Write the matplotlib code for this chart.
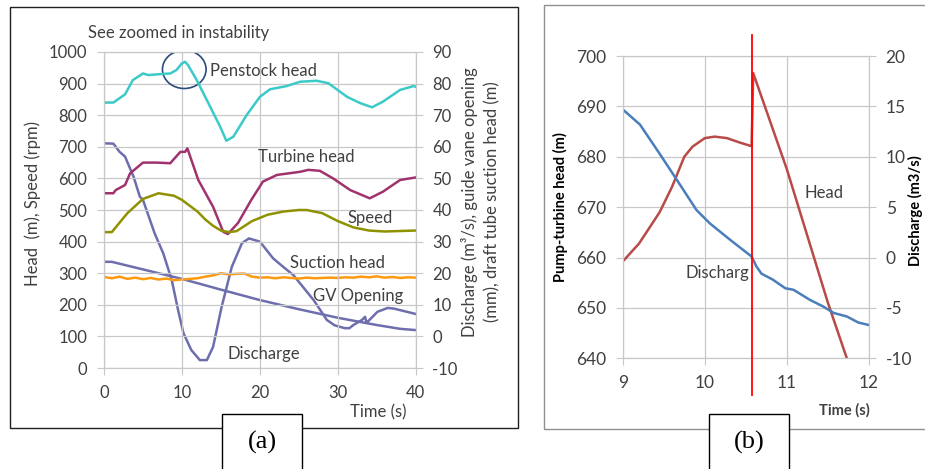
import matplotlib
matplotlib.use('Agg')
import matplotlib.pyplot as plt
from matplotlib.patches import Ellipse, Rectangle

plt.rcParams['font.family'] = ['Lato', 'DejaVu Sans']
plt.rcParams['axes.unicode_minus'] = False

# ---- panel (a): load rejection transient, 0-40 s ----
# left axis: head (m) and speed (rpm)
pen_t = [0, 1.2, 2.7, 3.7, 5.0, 5.7, 7.2, 8.5, 9.3, 10.0, 10.4, 10.8, 11.9, 13.4, 14.9, 15.7,
         16.6, 18.3, 20.0, 21.3, 23.4, 25.2, 27.3, 28.8, 31.2, 32.9, 34.4, 35.8, 38.0, 39.7, 40]
pen_head = [840, 840, 866, 911, 932, 927, 930, 932, 943, 964, 969, 958, 911, 838, 764, 719,
            732, 800, 858, 882, 892, 906, 909, 901, 858, 838, 825, 843, 880, 892, 890]

tur_t = [0, 1.2, 1.5, 2.7, 3.35, 5.0, 6.8, 8.5, 9.8, 10.4, 10.7, 12.1, 14.0, 15.3, 15.9, 17.2,
         18.9, 20.4, 22.2, 25.2, 26.2, 27.7, 29.4, 31.6, 34.1, 35.8, 38.0, 40]
tur_head = [553, 553, 563, 579, 616, 650, 650, 648, 684, 684, 695, 595, 510, 431, 424, 459,
            532, 590, 611, 621, 627, 624, 600, 563, 537, 558, 595, 603]

spd_t = [0, 1, 3, 5, 7, 9, 10, 12, 13, 14, 15, 16, 17, 19, 21, 23, 25, 26, 28, 30, 32, 34, 36, 40]
speed = [430, 430, 490, 535, 553, 545, 532, 495, 470, 450, 435, 430, 433, 465, 485, 495, 500,
         500, 490, 465, 445, 435, 432, 435]

# right axis: discharge (m3/s), GV opening (mm), suction head (m)
dis_t = [0, 1.2, 2.0, 2.7, 3.8, 4.6, 5.0, 6.5, 7.6, 8.7, 9.5, 10.2, 11.2, 12.3, 13.2, 14.0,
         15.1, 16.4, 17.7, 18.6, 20.0, 21.7, 23.0, 24.3, 26.9, 27.9, 28.6, 29.6, 30.9, 31.5,
         32.0, 33.1, 33.5, 33.7, 35.1, 36.4, 37.2, 40.0]
discharge = [61.1, 61.0, 58.4, 56.9, 50.5, 44.2, 43.2, 32.6, 26.3, 17.8, 8.4, 1.0, -4.3, -7.5,
             -7.5, -3.3, 9.4, 22.0, 29.5, 31.0, 30.0, 24.7, 22.0, 19.4, 11.5, 7.8, 5.2, 3.5,
             2.6, 2.6, 3.6, 5.2, 6.2, 4.3, 7.8, 9.0, 8.8, 7.1]

gv_t = [0, 1, 5, 10, 15, 20, 25, 30, 35, 38, 40]
gv_open = [23.6, 23.6, 21.2, 18.2, 14.8, 11.5, 8.6, 5.9, 3.6, 2.4, 2.0]

suc_t = list(range(41))
suction = [18.8, 18.4, 18.9, 18.2, 18.6, 18.1, 18.5, 18.0, 18.3, 17.8, 18.0, 18.2, 18.4, 18.9,
           19.3, 20.0, 19.6, 19.8, 19.9, 18.9, 18.6, 18.7, 18.4, 18.7, 18.5, 18.3, 18.6, 18.4,
           18.5, 18.6, 18.5, 18.7, 18.6, 18.9, 18.7, 19.0, 18.6, 18.8, 18.5, 18.7, 18.6]

# ---- panel (b): zoom on the instability, 9-12 s ----
b_head_t = [9.0, 9.2, 9.45, 9.6, 9.75, 9.85, 10.0, 10.12, 10.27, 10.43, 10.57, 10.59, 11.0,
            11.5, 11.73]
b_head = [659.2, 662.8, 669.0, 674.0, 680.0, 682.0, 683.7, 684.0, 683.7, 682.8, 682.1, 696.6,
          677.5, 651.0, 640.0]
b_dis_t = [9.0, 9.21, 9.45, 9.66, 9.9, 10.06, 10.31, 10.57, 10.63, 10.69, 10.83, 10.98, 11.08,
           11.28, 11.44, 11.57, 11.73, 11.87, 12.0]
b_dis = [14.7, 13.2, 10.3, 7.7, 4.7, 3.4, 1.75, 0.1, -0.9, -1.6, -2.2, -3.05, -3.2, -4.2, -4.85,
         -5.5, -5.85, -6.45, -6.7]
t_event = 10.58

W, H = 925, 469
txt = '#404040'
grid_c = '#C8C8C8'


def fx(px):
    return px / W


def fy(py):
    return 1 - py / H


fig = plt.figure(figsize=(9.25, 4.69), dpi=100)


def style(ax, size):
    for s in ax.spines.values():
        s.set_color(grid_c)
    ax.tick_params(colors=grid_c, labelcolor=txt, labelsize=size, length=5, pad=7)


# panel (a)
ax = fig.add_axes([fx(104), fy(368), fx(311.7), 316 / H])
ax2 = ax.twinx()
ax.set_zorder(ax2.get_zorder() + 1)
ax.patch.set_visible(False)

ax.plot(pen_t, pen_head, color='#3CCAC8', lw=1.8)
ax.plot(tur_t, tur_head, color='#A0336E', lw=1.8)
ax.plot(spd_t, speed, color='#8F9200', lw=1.8)
ax2.plot(dis_t, discharge, color='#6E6EAE', lw=1.8)
ax2.plot(gv_t, gv_open, color='#6E6EAE', lw=1.8)
ax2.plot(suc_t, suction, color='#FF9A10', lw=1.8)

ax.set_xlim(0, 40)
ax.set_ylim(0, 1000)
ax2.set_ylim(-10, 90)
ax.set_xticks(range(0, 41, 10))
ax.set_yticks(range(0, 1001, 100))
ax2.set_yticks(range(-10, 91, 10))
ax.grid(True, color=grid_c, lw=0.9)
ax.set_axisbelow(True)
style(ax, 12)
style(ax2, 12)

ax.add_patch(Ellipse((10.3, 945), 5.6, 121, fill=False, edgecolor='#2B4A7A', lw=1.2))
ax.text(-2.05, 1060, 'See zoomed in instability', color=txt, fontsize=12, va='center', clip_on=False)
ax.text(13.6, 940, 'Penstock head', color=txt, fontsize=12, va='center')
ax.text(19.8, 668, 'Turbine head', color=txt, fontsize=12, va='center')
ax.text(31.3, 474, 'Speed', color=txt, fontsize=12, va='center')
ax.text(23.9, 332, 'Suction head', color=txt, fontsize=12, va='center')
ax.text(26.8, 228, 'GV Opening', color=txt, fontsize=12, va='center')
ax.text(15.9, 44, 'Discharge', color=txt, fontsize=12, va='center')
ax.text(0.972, -0.142, 'Time (s)', transform=ax.transAxes, color=txt, fontsize=12,
        ha='right', va='center')
fig.text(fx(33), fy(203), 'Head  (m), Speed (rpm)', rotation=90, color=txt, fontsize=12,
         ha='center', va='center')
fig.text(fx(481), fy(202), 'Discharge (m³/s), guide vane opening\n(mm), draft tube suction head (m)',
         rotation=90, color=txt, fontsize=12, ha='center', va='center', multialignment='center',
         linespacing=1.5)

# panel (b)
bx = fig.add_axes([fx(622.7), fy(358.3), fx(246.3), 302.3 / H])
bx2 = bx.twinx()
bx.plot(b_head_t, b_head, color='#B84A48', lw=1.8)
bx2.plot(b_dis_t, b_dis, color='#4A7EBB', lw=1.8)
bx2.plot([t_event, t_event], [22.1, -13.65], color='#FF0000', lw=1.3, clip_on=False, zorder=5)

bx.set_xlim(9, 12)
bx.set_ylim(640, 700)
bx2.set_ylim(-10, 20)
bx.set_xticks([9, 10, 11, 12])
bx.set_yticks(range(640, 701, 10))
bx2.set_yticks(range(-10, 21, 5))
bx.grid(True, color=grid_c, lw=0.9)
bx.set_axisbelow(True)
style(bx, 12.5)
style(bx2, 12.5)

bx.text(11.22, 672.8, 'Head', color=txt, fontsize=12, va='center')
bx.text(10.54, 657, 'Discharg', color=txt, fontsize=12, va='center', ha='right')
fig.text(fx(870), fy(410), 'Time (s)', color=txt, fontsize=10.5, weight='bold',
         ha='right', va='center')
fig.text(fx(560), fy(207), 'Pump-turbine head (m)', rotation=90, color='black', fontsize=10.5,
         weight='bold', ha='center', va='center')
fig.text(fx(915), fy(211), 'Discharge (m3/s)', rotation=90, color='black', fontsize=10.5,
         weight='bold', ha='center', va='center')

# frames and panel labels
fig.add_artist(Rectangle((fx(10), fy(428)), fx(508), 421 / H, transform=fig.transFigure,
                         fill=False, edgecolor='#202020', lw=1))
fig.add_artist(Rectangle((fx(544), fy(429)), fx(390), 424 / H, transform=fig.transFigure,
                         fill=False, edgecolor='#909090', lw=1))
for x0, lab in [(222, '(a)'), (709, '(b)')]:
    fig.add_artist(Rectangle((fx(x0), fy(474)), fx(80), 60 / H, transform=fig.transFigure,
                             facecolor='white', edgecolor='black', lw=1, zorder=3))
    fig.text(fx(x0 + 40), fy(442), lab, family='Liberation Serif', fontsize=19,
             ha='center', va='center', zorder=4)

fig.savefig('out.png', dpi=100)
